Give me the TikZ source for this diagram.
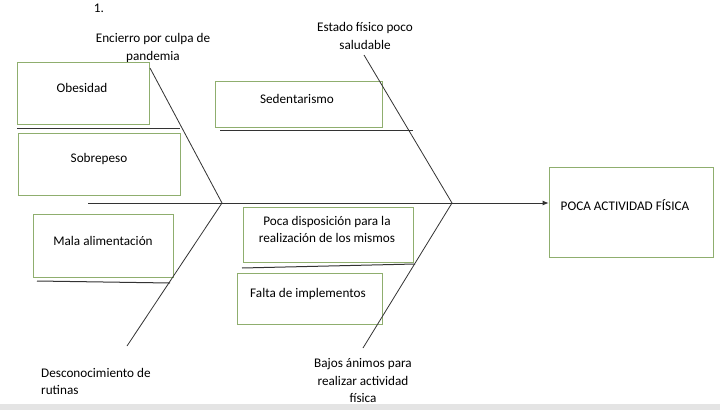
\documentclass[tikz,border=0pt]{standalone}
\usepackage{fontspec}
\setmainfont{Carlito}
\usetikzlibrary{arrows.meta}
\definecolor{boxgreen}{HTML}{8FAE6E}
\definecolor{bonegray}{HTML}{333333}
\definecolor{bandgray}{HTML}{E4E4E4}
\begin{document}
\begin{tikzpicture}[x=1pt,y=-1pt,
  box/.style={draw=boxgreen, line width=0.8pt, inner sep=0pt},
  txt/.style={inner sep=0pt, align=center, font=\fontsize{13.2}{17.5}\selectfont},
  bone/.style={draw=bonegray, line width=0.8pt},
  shelf/.style={draw=bonegray, line width=1pt}]
\useasboundingbox (0,0) rectangle (720,410);
\fill[white] (0,0) rectangle (720,410);
\fill[bandgray] (0,404) rectangle (720,410);

% labels of the main bones
\node[txt] (n1) at (99,8) {1.};
\node[txt] (encierro) at (153,48) {Encierro por culpa de\\pandemia};
\node[txt] (estado) at (365,36) {Estado físico poco\\saludable};
\node[txt, align=left, anchor=west] (descon) at (41,381.5) {Desconocimiento de\\rutinas};
\node[txt] (bajos) at (363,381) {Bajos ánimos para\\realizar actividad\\física};

% boxes
\node[box, minimum width=132pt, minimum height=62pt] (obes) at (83,93) {};
\node[txt] (obest) at ([xshift=-1pt,yshift=5pt]obes.center) {Obesidad};
\node[box, minimum width=162pt, minimum height=62pt] (sobre) at (99,164) {};
\node[txt] (sobret) at ([yshift=5pt]sobre.center) {Sobrepeso};
\node[box, minimum width=140pt, minimum height=63pt] (mala) at (103,245.5) {};
\node[txt] (malat) at ([yshift=5pt]mala.center) {Mala alimentación};
\node[box, minimum width=167pt, minimum height=46pt] (seden) at (298.5,104) {};
\node[txt] (sedent) at ([xshift=-1.5pt,yshift=5pt]seden.center) {Sedentarismo};
\node[box, minimum width=170pt, minimum height=55pt] (poca) at (328,234.5) {};
\node[txt] (pocat) at ([xshift=-1pt,yshift=5pt]poca.center) {Poca disposición para la\\realización de los mismos};
\node[box, minimum width=145pt, minimum height=51pt] (falta) at (309.5,298.5) {};
\node[txt] (faltat) at ([xshift=-1.5pt,yshift=5pt]falta.center) {Falta de implementos};
\node[box, minimum width=164pt, minimum height=90pt] (effect) at (631,212) {};
\node[txt] (effectt) at ([xshift=-6pt,yshift=7pt]effect.center) {POCA ACTIVIDAD FÍSICA};

% skeleton
\coordinate (tail) at (88,203);
\coordinate (jl) at (222,203);
\coordinate (jr) at (452,203);
\coordinate (lu) at (150,68);
\coordinate (ll) at (127,346);
\coordinate (ru) at (364,55);
\coordinate (rl) at (363,348);
\draw[bone, -{Latex[length=6pt,width=5pt]}] (tail) -- (tail -| effect.west);
\draw[bone] (lu) -- (jl) -- (ll);
\draw[bone] (ru) -- (jr) -- (rl);

% shelves under the boxes
\coordinate (s1a) at (17,128);  \coordinate (s1b) at (180,128);
\coordinate (s2a) at (220,130); \coordinate (s2b) at (413,130);
\coordinate (s3a) at (37,281);  \coordinate (s3b) at (170,283);
\coordinate (s4a) at (242,268); \coordinate (s4b) at (415,264);
\draw[shelf] (s1a) -- (s1b);
\draw[shelf] (s2a) -- (s2b);
\draw[shelf] (s3a) -- (s3b);
\draw[shelf] (s4a) -- (s4b);
\end{tikzpicture}
\end{document}
